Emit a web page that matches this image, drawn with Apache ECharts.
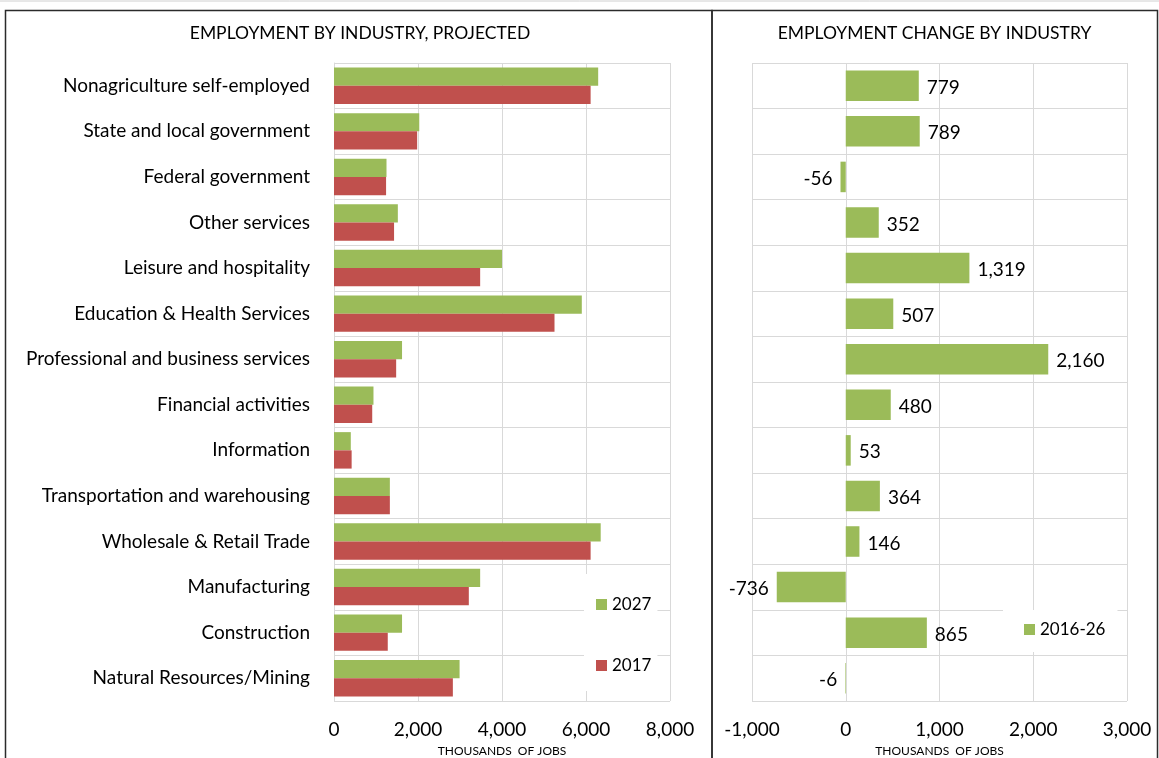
<!DOCTYPE html>
<html>
<head>
<meta charset="utf-8">
<script src="https://cdn.jsdelivr.net/npm/echarts@6/dist/echarts.min.js"></script>
<style>
html,body{margin:0;padding:0;background:#fff;}
#chart{width:1159px;height:758px;}
</style>
</head>
<body>
<div id="chart"></div>
<script>
const categories = [
  "Nonagriculture self-employed",
  "State and local government",
  "Federal government",
  "Other services",
  "Leisure and hospitality",
  "Education & Health Services",
  "Professional and business services",
  "Financial activities",
  "Information",
  "Transportation and warehousing",
  "Wholesale & Retail Trade",
  "Manufacturing",
  "Construction",
  "Natural Resources/Mining"
];
const emp2027 = [6290, 2030, 1250, 1520, 4000, 5900, 1620, 940, 400, 1330, 6350, 3480, 1620, 2990];
const emp2017 = [6110, 1980, 1240, 1430, 3480, 5250, 1480, 910, 420, 1330, 6110, 3210, 1280, 2830];
const change2016_26 = [779, 789, -56, 352, 1319, 507, 2160, 480, 53, 364, 146, -736, 865, -6];

const leftTitle = "EMPLOYMENT BY INDUSTRY, PROJECTED";
const rightTitle = "EMPLOYMENT CHANGE BY INDUSTRY";
const axisName = "THOUSANDS  OF JOBS";

const FONT = "Lato";
const GREEN = "#9BBB59";
const RED = "#C0504D";
const GRID = "#d9d9d9";
const fmt = v => Number(v).toLocaleString("en-US");

const chart = echarts.init(document.getElementById("chart"));

const option = {
  backgroundColor: "#fff",
  animation: false,
  textStyle: { fontFamily: FONT, color: "#000" },
  title: [
    { text: leftTitle, left: 355, top: 19, textAlign: "center",
      textStyle: { fontFamily: FONT, fontSize: 17.5, fontWeight: "normal", color: "#000" } },
    { text: rightTitle, left: 929.5, top: 19, textAlign: "center",
      textStyle: { fontFamily: FONT, fontSize: 17.5, fontWeight: "normal", color: "#000" } }
  ],
  legend: [
    { data: ["2027", "2017"], orient: "vertical", left: 584, top: 574,
      backgroundColor: "#fff", padding: [22, 6, 17, 12], itemGap: 44,
      itemWidth: 11, itemHeight: 11, icon: "rect",
      textStyle: { fontFamily: FONT, fontSize: 17, color: "#000" } },
    { data: ["2016-26"], orient: "vertical", left: 1003, top: 610,
      backgroundColor: "#fff", padding: [11, 12, 14, 21],
      itemWidth: 11, itemHeight: 11, icon: "rect",
      textStyle: { fontFamily: FONT, fontSize: 17, color: "#000" } }
  ],
  grid: [
    { left: 334, top: 63, width: 336, height: 638, containLabel: false, outerBoundsMode: "none" },
    { left: 752, top: 63, width: 375, height: 638, containLabel: false, outerBoundsMode: "none" }
  ],
  xAxis: [
    { type: "value", gridIndex: 0, min: 0, max: 8000, interval: 2000,
      name: axisName, nameLocation: "middle", nameGap: 44,
      nameTextStyle: { fontFamily: FONT, fontSize: 12, color: "#000" },
      axisLine: { show: false }, axisTick: { show: false },
      axisLabel: { fontFamily: FONT, fontSize: 19, color: "#000", margin: 19, formatter: fmt },
      splitLine: { show: true, lineStyle: { color: GRID, width: 1 } } },
    { type: "value", gridIndex: 1, min: -1000, max: 3000, interval: 1000,
      name: axisName, nameLocation: "middle", nameGap: 44,
      nameTextStyle: { fontFamily: FONT, fontSize: 12, color: "#000" },
      axisLine: { show: false }, axisTick: { show: false },
      axisLabel: { fontFamily: FONT, fontSize: 19, color: "#000", margin: 19, formatter: fmt },
      splitLine: { show: true, lineStyle: { color: GRID, width: 1 } } }
  ],
  yAxis: [
    { type: "category", gridIndex: 0, data: categories, inverse: true,
      axisLine: { show: true, lineStyle: { color: GRID } }, axisTick: { show: false },
      axisLabel: { fontFamily: FONT, fontSize: 19, color: "#000", margin: 24, padding: [4, 0, 0, 0] },
      splitLine: { show: true, lineStyle: { color: GRID, width: 1 } } },
    { type: "category", gridIndex: 1, data: categories, inverse: true,
      axisLine: { show: false }, axisTick: { show: false },
      axisLabel: { show: false },
      splitLine: { show: true, lineStyle: { color: GRID, width: 1 } } }
  ],
  series: [
    { name: "2027", type: "bar", xAxisIndex: 0, yAxisIndex: 0, data: emp2027,
      itemStyle: { color: GREEN }, barGap: "0%", barCategoryGap: "20%" },
    { name: "2017", type: "bar", xAxisIndex: 0, yAxisIndex: 0, data: emp2017,
      itemStyle: { color: RED }, barGap: "0%", barCategoryGap: "20%" },
    { name: "2016-26", type: "bar", xAxisIndex: 1, yAxisIndex: 1,
      data: change2016_26.map(v => ({ value: v, label: { position: v < 0 ? "left" : "right" } })),
      itemStyle: { color: GREEN }, barCategoryGap: "33%",
      label: { show: true, distance: 8, offset: [0, 2], fontFamily: FONT, fontSize: 19, color: "#000",
        formatter: p => fmt(p.value) } }
  ],
  graphic: [
    { type: "line", shape: { x1: 0, y1: 1, x2: 1159, y2: 1 }, style: { stroke: "#d0d0d0", lineWidth: 1 }, silent: true },
    { type: "rect", shape: { x: 5.5, y: 10.5, width: 706.5, height: 760 }, style: { fill: "none", stroke: "#2b2b2b", lineWidth: 1.5 }, silent: true },
    { type: "rect", shape: { x: 712, y: 10.5, width: 445.5, height: 760 }, style: { fill: "none", stroke: "#2b2b2b", lineWidth: 1.5 }, silent: true }
  ]
};

chart.setOption(option);
</script>
</body>
</html>
